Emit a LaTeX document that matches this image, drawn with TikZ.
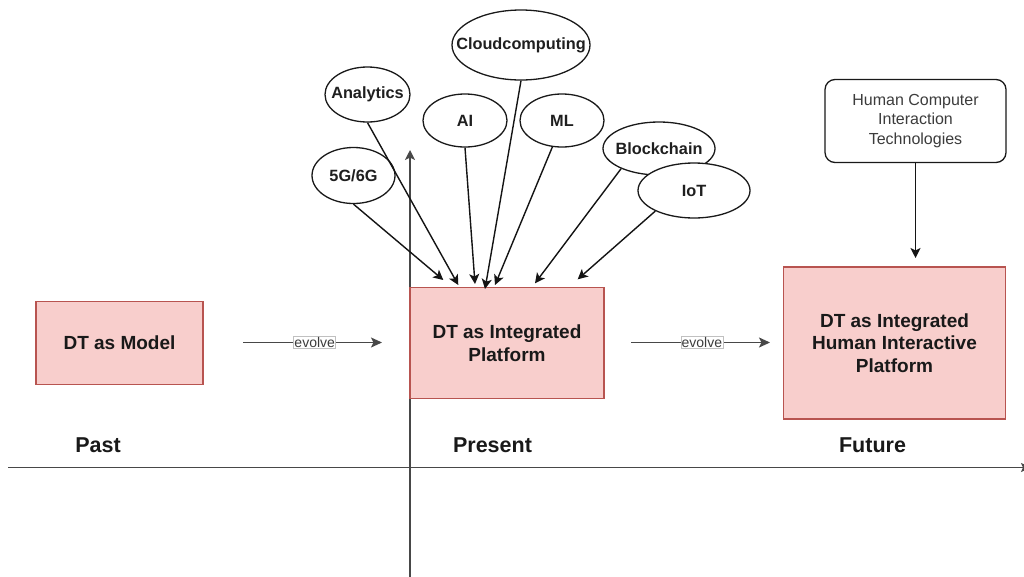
\documentclass[tikz,border=0pt]{standalone}
\usepackage{fontspec}
\setmainfont{Liberation Sans}
\usetikzlibrary{arrows.meta,shapes.geometric}
\definecolor{pinkfill}{HTML}{F8CECC}
\definecolor{pinkline}{HTML}{B85450}
\definecolor{axisgray}{HTML}{484848}
\definecolor{txtgray}{HTML}{3C3C3C}
\definecolor{lblgray}{HTML}{C0C0C0}
\begin{document}
\begin{tikzpicture}[x=1pt,y=-1pt,
  dtbox/.style={draw=pinkline, fill=pinkfill, line width=1.2pt, align=center,
    font=\fontsize{19}{22.5}\selectfont\bfseries, text=black!90, inner sep=0pt},
  techell/.style={ellipse, draw=black!90, line width=1.3pt, fill=white, inner sep=0pt},
  techlbl/.style={font=\fontsize{16.3}{18}\selectfont\bfseries, text=black!88, inner sep=0pt},
  conn/.style={-{Stealth[length=10pt,width=10pt,inset=2.5pt]}, line width=1.4pt, draw=black!92},
  evolvearr/.style={-{Stealth[length=11pt,width=10pt,inset=2.5pt]}, line width=1.5pt, draw=axisgray},
  evolvelbl/.style={draw=lblgray, fill=white, line width=0.7pt, text=txtgray,
    font=\fontsize{14}{14}\selectfont, inner sep=0.8pt},
  timelbl/.style={font=\fontsize{21.5}{24}\selectfont\bfseries, anchor=base, text=black!90},
  axisline/.style={draw=axisgray, line width=1.6pt},
  hcibox/.style={draw=black!90, line width=1.3pt, rounded corners=10pt, fill=white, align=center,
    font=\fontsize{16}{19.5}\selectfont, text=txtgray, inner sep=0pt}
]
\useasboundingbox (0,0) rectangle (1024,576);
\fill[white] (0,0) rectangle (1024,576);

% axes
\coordinate (axL) at (8,467.5);
\coordinate (axR) at (1031,467.5);
\coordinate (ayB) at (410,578);
\coordinate (ayT) at (410,150);
\draw[axisline,-{Stealth[length=10pt,width=9pt,inset=2pt]}] (axL) -- (axR);
\draw[axisline,-{Stealth[length=10pt,width=10pt,inset=2.5pt]}] (ayB) -- (ayT);

% main boxes
\node[dtbox, minimum width=167pt, minimum height=83pt] (model) at (119.5,343) {DT as Model};
\node[dtbox, minimum width=194pt, minimum height=111pt] (plat) at (507,343) {DT as Integrated\\Platform};
\node[dtbox, minimum width=222pt, minimum height=152pt] (human) at (894.5,343) {DT as Integrated\\Human Interactive\\Platform};
\node[hcibox, minimum width=181pt, minimum height=83pt] (hci) at (915.5,121) {Human Computer\\Interaction\\Technologies};

% time labels
\node[timelbl] (past) at (98,452) {Past};
\node[timelbl] (present) at (492.5,452) {Present};
\node[timelbl] (future) at (872.5,452) {Future};

% technology ellipses
\node[techell, minimum width=138pt, minimum height=70pt, label={[techlbl]center:Cloudcomputing}] (ecloud) at (521,45) {};
\node[techell, minimum width=85pt, minimum height=55pt, label={[techlbl]center:Analytics}] (eana) at (367.5,94.5) {};
\node[techell, minimum width=84pt, minimum height=53pt, label={[techlbl]center:AI}] (eai) at (465,120.5) {};
\node[techell, minimum width=84pt, minimum height=53pt, label={[techlbl]center:ML}] (eml) at (562,120.5) {};
\node[techell, minimum width=83pt, minimum height=56pt, label={[techlbl]center:5G/6G}] (e5g) at (353.5,175.5) {};
\node[techell, minimum width=112pt, minimum height=53pt, label={[techlbl]center:Blockchain}] (ebc) at (659,148.5) {};
\node[techell, minimum width=112pt, minimum height=55pt, label={[techlbl]center:IoT}] (eiot) at (694,190.5) {};

% arrow end points above the platform box
\coordinate (t5g) at (443.3,280);
\coordinate (tana) at (458.3,285);
\coordinate (tai) at (475,284);
\coordinate (tcloud) at (485,289);
\coordinate (tml) at (495,285);
\coordinate (tbc) at (535,283.3);
\coordinate (tiot) at (577.7,279.3);

\draw[conn] (e5g.south) -- (t5g);
\draw[conn] (eana.south) -- (tana);
\draw[conn] (eai.south) -- (tai);
\draw[conn] (ecloud.south) -- (tcloud);
\draw[conn] (eml.250) -- (tml);
\draw[conn] (ebc.208) -- (tbc);
\draw[conn] (eiot.208) -- (tiot);

% HCI arrow
\coordinate (hcitip) at (915.5,258);
\draw[conn] (hci.south) -- (hcitip);

% evolve arrows
\coordinate (ev1a) at (243,342.5);
\coordinate (ev1b) at (382,342.5);
\coordinate (ev2a) at (631,342.5);
\coordinate (ev2b) at (770,342.5);
\draw[evolvearr] (ev1a) -- (ev1b) node[pos=0.516, evolvelbl] (evl1) {evolve};
\draw[evolvearr] (ev2a) -- (ev2b) node[pos=0.51, evolvelbl] (evl2) {evolve};
\end{tikzpicture}
\end{document}
